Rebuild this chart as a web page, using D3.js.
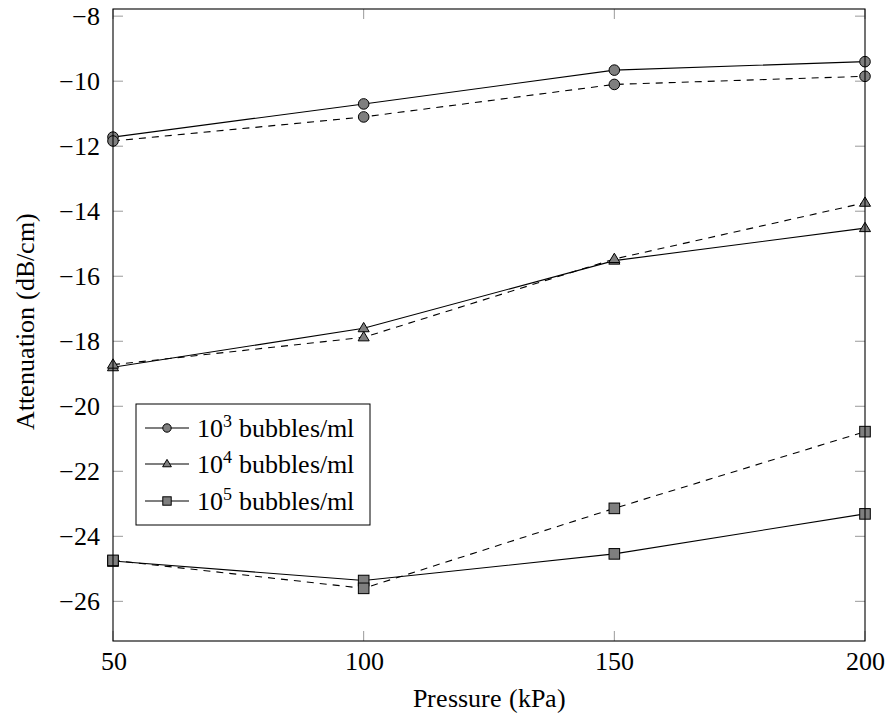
<!DOCTYPE html>
<html><head><meta charset="utf-8"><script src="https://cdn.jsdelivr.net/npm/d3@7"></script>
<style>
@font-face { font-family: "ChartSerif"; src: local("Liberation Serif"), local("LiberationSerif"), local("Liberation Serif Regular"); }
</style>
</head>
<body style="margin:0">
<svg id="chart" width="887" height="713"></svg>
<script>
// ---- data ----
const pressures = [50, 100, 150, 200];
const xTicks = [50, 100, 150, 200];
const yTicks = [-26, -24, -22, -20, -18, -16, -14, -12, -10, -8];

const e3Solid  = [-11.72, -10.70, -9.66, -9.40];
const e3Dashed = [-11.84, -11.10, -10.10, -9.85];
const e4Solid  = [-18.80, -17.60, -15.52, -14.52];
const e4Dashed = [-18.72, -17.88, -15.47, -13.74];
const e5Solid  = [-24.76, -25.36, -24.54, -23.31];
const e5Dashed = [-24.74, -25.60, -23.14, -20.78];

const legendExponents = ["3", "4", "5"];
const legendText = " bubbles/ml";

// ---- layout ----
const FONT = "ChartSerif, \"Liberation Serif\"";
const FS = 26;
const svg = d3.select("#chart").style("font-family", FONT);
const L = 113, R = 865, T = 9, B = 641;
const x = d3.scaleLinear().domain([50, 200]).range([L, R]);
const y = d3.scaleLinear().domain([-27.22, -7.78]).range([B, T]);

const series = [
  { vals: e3Solid,  marker: "circle",   dashed: false },
  { vals: e3Dashed, marker: "circle",   dashed: true },
  { vals: e4Solid,  marker: "triangle", dashed: false },
  { vals: e4Dashed, marker: "triangle", dashed: true },
  { vals: e5Solid,  marker: "square",   dashed: false },
  { vals: e5Dashed, marker: "square",   dashed: true }
];

const fill = "#7f7f7f";

// ticks (grey, inside, mirrored)
const tickLen = 10;
const tg = svg.append("g").attr("stroke", "#9a9a9a").attr("stroke-width", 1);
xTicks.forEach(t => {
  tg.append("line").attr("x1", x(t)).attr("x2", x(t)).attr("y1", B).attr("y2", B - tickLen);
  tg.append("line").attr("x1", x(t)).attr("x2", x(t)).attr("y1", T).attr("y2", T + tickLen);
});
yTicks.forEach(t => {
  tg.append("line").attr("x1", L).attr("x2", L + tickLen).attr("y1", y(t)).attr("y2", y(t));
  tg.append("line").attr("x1", R).attr("x2", R - tickLen).attr("y1", y(t)).attr("y2", y(t));
});

// axes with d3 for labels
const xAxis = d3.axisBottom(x).tickValues(xTicks).tickSize(0).tickPadding(0).tickFormat(d3.format("d"));
const gx = svg.append("g").attr("transform", `translate(0,${B})`).call(xAxis)
  .attr("font-family", null).attr("font-size", null);
gx.select(".domain").remove();
gx.selectAll("text").attr("dy", null).attr("y", 29).attr("fill", "#000")
  .style("font-family", FONT).style("font-size", FS + "px");

const yAxis = d3.axisLeft(y).tickValues(yTicks).tickSize(0).tickPadding(0)
  .tickFormat(d => "\u2212" + Math.abs(d));
const gy = svg.append("g").attr("transform", `translate(${L - 13},0)`).call(yAxis)
  .attr("font-family", null).attr("font-size", null);
gy.select(".domain").remove();
gy.selectAll("text").attr("dy", "0.33em").attr("x", 0).attr("fill", "#000")
  .style("font-family", FONT).style("font-size", FS + "px");

// lines
const line = d3.line().x((d, i) => x(pressures[i])).y(d => y(d));
const lines = svg.append("g");
series.forEach(s => {
  lines.append("path").attr("d", line(s.vals)).attr("fill", "none")
    .attr("stroke", "#000").attr("stroke-width", 1.1)
    .attr("stroke-dasharray", s.dashed ? "7,6" : null);
});

// markers
function drawMarker(g, type, cx, cy, size) {
  if (type === "circle") {
    g.append("circle").attr("cx", cx).attr("cy", cy).attr("r", size)
      .attr("fill", fill).attr("stroke", "#000").attr("stroke-width", 1);
  } else if (type === "square") {
    g.append("rect").attr("x", cx - size).attr("y", cy - size).attr("width", 2 * size).attr("height", 2 * size)
      .attr("fill", fill).attr("stroke", "#000").attr("stroke-width", 1);
  } else {
    const h = size * 1.1;
    g.append("path")
      .attr("d", `M${cx},${cy - h} L${cx + h * 0.95},${cy + h * 0.6} L${cx - h * 0.95},${cy + h * 0.6} Z`)
      .attr("fill", fill).attr("stroke", "#000").attr("stroke-width", 1);
  }
}
const mg = svg.append("g");
series.forEach(s => {
  s.vals.forEach((v, i) => drawMarker(mg, s.marker, x(pressures[i]), y(v), 5.3));
});

// frame
svg.append("rect").attr("x", L).attr("y", T).attr("width", R - L).attr("height", B - T)
  .attr("fill", "none").attr("stroke", "#000").attr("stroke-width", 1.1);

// axis titles
svg.append("text").attr("x", 489).attr("y", 707).attr("text-anchor", "middle")
  .style("font-family", FONT).style("font-size", FS + "px").text("Pressure (kPa)");
svg.append("text").attr("transform", `translate(34,321) rotate(-90)`)
  .attr("text-anchor", "middle").style("font-family", FONT).style("font-size", FS + "px")
  .text("Attenuation (dB/cm)");

// legend
const lg = svg.append("g");
lg.append("rect").attr("x", 136).attr("y", 404).attr("width", 234).attr("height", 121)
  .attr("fill", "#fff").attr("stroke", "#000").attr("stroke-width", 1);
const markers = ["circle", "triangle", "square"];
const rowY = [428, 464, 501];
legendExponents.forEach((e, i) => {
  const cy = rowY[i];
  lg.append("line").attr("x1", 145).attr("x2", 189).attr("y1", cy).attr("y2", cy)
    .attr("stroke", "#000").attr("stroke-width", 1.1);
  drawMarker(lg, markers[i], 167, cy, 4.2);
  const t = lg.append("text").attr("x", 197).attr("y", cy + 9)
    .style("font-family", FONT).style("font-size", FS + "px");
  t.append("tspan").text("10");
  t.append("tspan").style("font-size", "18px").attr("dy", -10).text(e);
  t.append("tspan").attr("dy", 10).text(legendText);
});
</script>
</body>
</html>
